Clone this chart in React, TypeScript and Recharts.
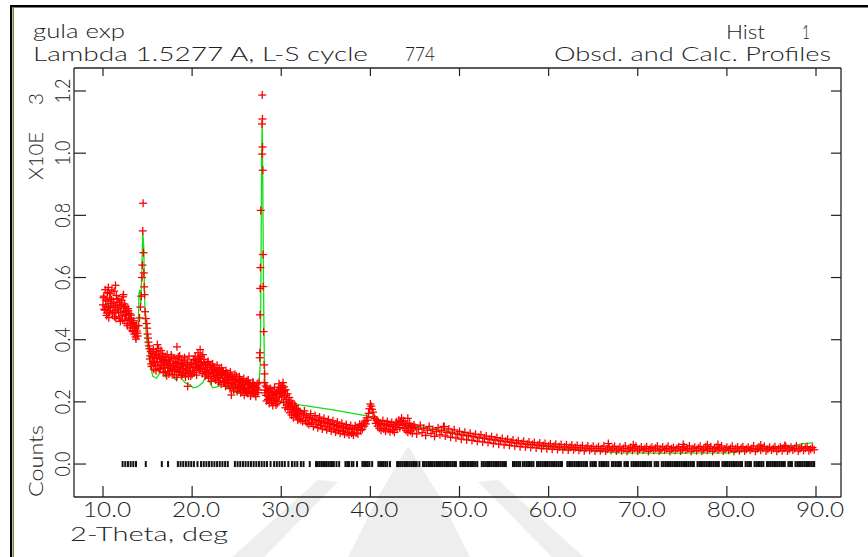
import { ComposedChart, Scatter, Line, XAxis, YAxis } from "recharts"

// tick labels
const X_TICKS = [10, 20, 30, 40, 50, 60, 70, 80, 90]
const Y_TICKS = [0, 0.2, 0.4, 0.6, 0.8, 1.0, 1.2]

// observed counts, scan segments (start angle, step, counts)
const OBS_A_START = 10.0
const obsA = [
  512, 540, 495, 528, 478, 552, 505, 489, 534, 517,
  560, 488, 521, 474, 509, 542, 496, 530, 470, 511,
  489, 527, 463, 502, 515, 478, 494, 452, 500, 470,
  484, 447, 468, 430, 455, 418, 441, 402, 428, 412,
]
const OBS_A2_START = 10.05
const obsA2 = [
  535, 498, 561, 507, 486, 524, 471, 548, 502, 529,
  483, 515, 556, 493, 468, 531, 504, 487, 520, 459,
  511, 476, 538, 490, 462, 507, 481, 445, 493, 466,
  438, 479, 452, 426, 461, 437, 409, 446, 421,
]

const peak1 = [
  [14.0, 445], [14.1, 470], [14.2, 505], [14.3, 540], [14.38, 600], [14.42, 640], [14.46, 750],
  [14.5, 839], [14.54, 680], [14.58, 615], [14.62, 570], [14.66, 545], [14.72, 490], [14.8, 468],
]

const OBS_B_START = 14.9
const obsB = [
  452, 418, 392, 371, 348, 322, 356, 331, 305, 342,
  318, 361, 329, 350, 307, 338, 365, 322, 347, 311,
  336, 298, 327, 352, 316, 290, 331, 308, 345, 301,
  322, 287, 318, 339, 304, 326, 295, 348, 312, 285,
  321, 306, 334, 292, 318, 300, 327, 283, 312, 296,
  325, 289, 313, 337, 301, 322, 286, 315, 341, 306,
  328, 346, 318, 352, 325, 298, 320, 289, 311, 330,
  294, 316, 281, 303, 322, 287, 309, 274, 298, 318,
  284, 302, 268, 291, 310, 276, 297, 262, 285, 301,
  269, 288, 254, 279, 296, 262, 281, 247, 270, 289,
  255, 274, 242, 266, 281, 249, 268, 236, 259, 275,
  244, 262, 230, 254, 270, 238, 257, 226, 249, 262,
  231, 252, 224, 246, 258, 238,
]
const OBS_B2_START = 14.95
const obsB2 = [
  437, 405, 380, 338, 362, 314, 345, 369, 326, 353,
  300, 339, 316, 372, 344, 305, 329, 356, 294, 333,
  318, 343, 284, 309, 336, 297, 324, 351, 288, 315,
  340, 302, 329, 279, 311, 344, 298, 323, 305, 335,
  289, 316, 342, 280, 306, 327, 293, 347, 310, 283,
  320, 301, 334, 295, 347, 312, 330, 358, 309, 337,
  303, 326, 291, 318, 337, 283, 305, 294, 327, 276,
  299, 319, 266, 293, 311, 281, 305, 270, 294, 285,
  263, 307, 279, 257, 289, 298, 265, 284, 250, 276,
  292, 259, 271, 243, 283, 260, 277, 238, 268, 251,
  283, 233, 261, 247, 272, 229, 254, 266, 240, 221,
  256, 235, 268, 227, 246, 259, 219, 243, 233, 262,
  228, 250, 217, 241, 230,
]

const peak2 = [
  [27.5, 262], [27.58, 342], [27.6, 358], [27.62, 480], [27.64, 565], [27.66, 632], [27.7, 816],
  [27.84, 1094], [27.87, 1187], [27.89, 1110], [27.9, 1020], [27.86, 997], [27.93, 945],
  [27.96, 674], [27.98, 571], [28.02, 426], [28.08, 319], [28.12, 290],
]

const OBS_C_START = 28.1
const obsC = [
  262, 238, 221, 247, 208, 232, 214, 241, 199, 226,
  205, 233, 212, 190, 224, 201, 236, 218, 245, 228,
  252, 236, 248, 221, 239, 207, 226, 193, 214, 185,
  203, 176, 195, 168, 187, 160, 179, 152, 172, 146,
  168, 141, 163, 137, 158, 171, 140, 155, 131, 150,
  127, 148, 162, 133, 145, 121, 143, 156, 128, 141,
  117, 137, 151, 124, 139, 113, 133, 147, 120, 135,
  110, 130, 143, 116, 131, 106, 126, 139, 112, 127,
  103, 122, 135, 108, 123, 99, 118, 131, 105, 119,
  96, 115, 127, 101, 116, 94, 112, 124, 99, 114,
  93, 111, 123, 100, 116, 97, 118, 128, 108, 124,
  112, 131, 122, 138, 129, 149, 141, 163, 178, 193,
  186, 176, 167, 152, 146, 131, 140, 122, 136, 115,
  131, 109, 127, 140, 113, 129, 106, 124, 137, 111,
  127, 104, 121, 134, 109, 125, 102, 119, 135, 112,
  128, 141, 117, 136, 148, 124, 139, 115, 131, 108,
  125, 102, 119, 131, 106, 121, 99, 115, 126,
]
const OBS_C2_START = 28.15
const obsC2 = [
  229, 251, 203, 237, 219, 195, 243, 212, 230, 188,
  221, 247, 206, 229, 195, 238, 258, 231, 244, 215,
  233, 198, 221, 181, 208, 190, 176, 199, 165, 186,
  158, 181, 149, 170, 188, 156, 176, 142, 163,
]

const OBS_D_START = 45.0
const obsD = [
  118, 97, 112, 125, 101, 115, 92, 109, 121, 98,
  110, 89, 104, 117, 94, 107, 121, 90, 102, 113,
  86, 99, 110, 84, 96, 105, 80, 93, 102, 78,
  91, 99, 76, 88, 96, 73, 85, 94, 71, 83,
  90, 69, 80, 88, 66, 78, 85, 64, 75, 82,
  62, 73, 80, 60, 70, 77, 58, 68, 75, 56,
  66, 73, 55, 64, 71, 53, 63, 69, 52, 61,
  68, 50, 60, 66, 49, 58, 65, 48, 57, 64,
  47, 56, 63, 46, 55, 62, 45, 54, 61, 46,
  53, 60, 44, 52, 59, 43, 51, 58, 44, 50,
  57, 42, 50, 56, 43, 49, 58, 42, 48, 55,
  44, 51, 57, 42, 48, 55, 43, 50, 58, 41,
  49, 54, 44, 51, 57, 42, 48, 55, 45, 50,
  56, 41, 49, 54, 44, 51, 58, 42, 47, 55,
  45, 50, 57, 41, 49, 53, 44, 51, 56, 42,
  48, 55, 45, 50, 58, 41, 49, 54, 43, 51,
  57, 42, 48, 55, 44, 50, 56, 41, 49, 53,
  45, 51, 58, 42, 48, 54, 44, 50, 57, 41,
  49, 55, 43, 51, 56, 42, 48, 54, 45, 50,
  58, 41, 49, 55, 44, 51, 57, 42, 48, 54,
  45, 50, 56, 41, 49, 55, 43, 51, 57, 42,
  48, 54, 45, 50, 58, 42, 49, 55, 44, 51,
  56, 43, 48, 53, 46,
]

const outliers = [
  [10.6, 568], [11.4, 575], [12.3, 545], [16.1, 384], [18.3, 377], [20.9, 368], [19.5, 250],
  [24.4, 222], [30.2, 262], [44.2, 147], [48.3, 120], [66.7, 66], [69.5, 62], [75.1, 63],
  [77.8, 62], [79.0, 63], [83.8, 61], [86.5, 60],
]

// calculated profile
const calc = [
  [10.0, 515], [10.5, 512], [11.0, 508], [11.5, 503], [12.0, 497], [12.5, 487], [13.0, 473],
  [13.3, 458], [13.6, 432], [13.8, 414], [13.95, 450], [14.05, 550], [14.15, 560], [14.25, 515],
  [14.35, 620], [14.47, 745], [14.57, 700], [14.66, 550], [14.75, 460], [14.9, 400], [15.1, 360],
  [15.3, 314], [15.6, 282], [16.0, 276], [16.3, 290], [16.5, 320], [16.7, 338], [16.85, 300],
  [17.0, 280], [17.2, 290], [17.5, 330], [17.7, 300], [18.0, 275], [18.3, 270], [18.6, 300],
  [18.8, 275], [19.2, 262], [19.8, 255], [20.1, 245], [20.6, 248], [21.2, 262], [21.5, 278],
  [21.7, 282], [21.9, 268], [22.3, 245], [22.8, 248], [23.5, 256], [24.0, 245], [24.6, 232],
  [25.2, 228], [25.7, 226], [26.3, 227], [26.8, 229], [27.2, 240], [27.5, 262], [27.65, 320],
  [27.72, 600], [27.8, 1000], [27.87, 1100], [27.93, 900], [28.0, 600], [28.1, 330], [28.2, 250],
  [28.4, 213], [31.0, 197], [32.1, 190], [35.8, 174], [39.6, 155], [41.5, 139], [43.3, 128],
  [47.0, 115], [52.6, 83], [55.0, 72], [58.2, 61], [62.0, 50], [64.0, 45], [66.0, 40],
  [68.0, 36], [74.0, 35], [80.0, 36], [82.0, 40], [83.5, 47], [85.5, 54], [87.5, 59],
  [88.5, 66], [89.7, 68],
]

// reflection positions, 2-theta
const reflections = [
  12.2, 12.5, 12.8, 13.1, 13.4, 13.7, 14.8, 16.6, 17.3, 18.4, 18.7, 19.0, 19.3, 19.6, 19.9,
  20.2, 20.6, 21.0, 21.3, 21.6, 21.9, 22.2, 22.5, 22.8, 23.1, 23.4, 23.7, 24.0, 24.8, 25.1,
  25.4, 25.7, 26.0, 26.3, 26.6, 26.9, 27.2, 27.5, 27.8, 28.1, 28.4, 28.8, 29.2, 29.5, 29.8,
  30.1, 30.4, 30.8, 31.2, 31.5, 31.8, 32.2, 32.5, 33.2, 33.9, 34.1, 34.3, 34.5, 34.7, 34.9,
  35.1, 35.3, 35.5, 35.7, 35.9, 36.2, 36.5, 37.2, 37.4, 37.6, 37.9, 38.1, 38.5, 39.1, 39.3,
  39.5, 39.7, 39.9, 40.2, 40.9, 41.1, 41.3, 41.5, 41.7, 41.9, 42.2, 43.0, 43.2, 43.4, 43.6,
  43.8, 44.0, 44.2, 44.4, 44.6, 44.8, 45.0, 45.2, 45.5, 45.9, 46.1, 46.3, 46.5, 46.6, 46.8,
  47.0, 47.2, 47.4, 47.5, 47.7, 47.9, 48.1, 48.3, 48.5, 48.6, 48.8, 49.0, 49.2, 49.4, 49.6,
  50.1, 50.3, 50.5, 50.7, 50.9, 51.0, 51.2, 51.4, 51.6, 51.8, 52.0, 52.5, 52.7, 52.9, 53.1,
  53.2, 53.4, 53.6, 53.8, 54.0, 54.2, 54.4, 54.6, 54.8, 55.0, 55.2, 56.0, 56.2, 56.4, 56.6,
  56.8, 57.1, 57.3, 57.5, 57.7, 57.9, 58.1, 58.3, 58.7, 58.9, 59.1, 59.3, 59.5, 59.7, 59.9,
  60.1, 60.3, 60.5, 60.7, 60.9, 61.1, 61.3, 61.5, 62.1, 62.3, 62.5, 62.7, 62.9, 63.1, 63.3,
  63.5, 63.7, 63.9, 64.1, 64.3, 64.7, 64.9, 65.1, 65.3, 65.7, 65.9, 66.1, 66.3, 66.5, 66.7,
  67.1, 67.3, 67.5, 67.7, 67.9, 68.1, 68.5, 68.7, 68.9, 69.3, 69.5, 69.7, 69.9, 70.1, 70.3,
  70.5, 70.7, 70.9, 71.1, 71.3, 71.5, 71.9, 72.1, 72.3, 72.7, 72.9, 73.1, 73.3, 73.5, 73.7,
  73.9, 74.1, 74.3, 74.5, 74.7, 74.9, 75.1, 75.3, 75.5, 75.7, 75.9, 76.1, 76.3, 76.7, 76.9,
  77.1, 77.3, 77.5, 77.7, 77.9, 78.1, 78.3, 78.5, 78.7, 78.9, 79.1, 79.5, 79.7, 79.9, 80.1,
  80.3, 80.5, 80.7, 80.9, 81.1, 81.3, 81.5, 81.7, 82.1, 82.3, 82.5, 82.7, 83.1, 83.3, 83.5,
  83.7, 83.9, 84.1, 84.5, 84.7, 84.9, 85.1, 85.3, 85.5, 85.7, 85.9, 86.1, 86.3, 86.5, 86.9,
  87.1, 87.3, 87.7, 87.9, 88.1, 88.3, 88.5, 88.7, 88.9, 89.1, 89.3, 89.5, 89.7, 89.8,
]

const seg = (start: number, step: number, vals: number[]) =>
  vals.map((v, i) => ({ x: +(start + i * step).toFixed(2), y: v / 1000 }))
const pairs = (p: number[][]) => p.map(([x, v]) => ({ x, y: v / 1000 }))

const obsData = [
  ...seg(OBS_A_START, 0.1, obsA),
  ...seg(OBS_A2_START, 0.1, obsA2),
  ...pairs(peak1),
  ...seg(OBS_B_START, 0.1, obsB),
  ...seg(OBS_B2_START, 0.1, obsB2),
  ...pairs(peak2),
  ...seg(OBS_C_START, 0.1, obsC),
  ...seg(OBS_C2_START, 0.1, obsC2),
  ...seg(OBS_D_START, 0.2, obsD),
  ...pairs(outliers),
]
const calcData = pairs(calc)
const refData = reflections.map((x) => ({ x, y: 0 }))

const FONT = "Lato, Roboto, 'DejaVu Sans', sans-serif"
const INK = "#222"
const X_DOMAIN = [6.746, 92.805]
const Y_DOMAIN = [-0.106, 1.274]

const Plus = (props: any) => {
  const { cx, cy } = props
  if (cx == null || cy == null) return null
  return (
    <g stroke="#ff0000" strokeWidth={1.3}>
      <line x1={cx - 4} x2={cx + 4} y1={cy} y2={cy} />
      <line x1={cx} x2={cx} y1={cy - 4} y2={cy + 4} />
    </g>
  )
}

const RefMark = (props: any) => {
  const { cx, cy } = props
  if (cx == null || cy == null) return null
  return <line x1={cx} x2={cx} y1={cy - 3} y2={cy + 3} stroke="#111" strokeWidth={2} />
}

const BottomTick = (props: any) => {
  const { x, y, payload } = props
  return (
    <g>
      <line x1={x} x2={x} y1={y} y2={y - 11} stroke={INK} strokeWidth={1.2} />
      <text x={x + 4} y={y + 20} textAnchor="middle" fontSize={21} fontWeight={300} fill={INK}
        fontFamily={FONT} textLength={48} lengthAdjust="spacingAndGlyphs">
        {payload.value.toFixed(1)}
      </text>
    </g>
  )
}

const TopTick = (props: any) => {
  const { x, y } = props
  return <line x1={x} x2={x} y1={y} y2={y + 8} stroke={INK} strokeWidth={1.2} />
}

const LeftTick = (props: any) => {
  const { x, y, payload } = props
  const lx = x - 4
  return (
    <g>
      <line x1={x} x2={x + 12} y1={y} y2={y} stroke={INK} strokeWidth={1.2} />
      <text x={lx} y={y} transform={`rotate(-90 ${lx} ${y})`} textAnchor="middle" fontSize={21}
        fontWeight={300} fill={INK} fontFamily={FONT} textLength={25} lengthAdjust="spacingAndGlyphs">
        {payload.value.toFixed(1)}
      </text>
    </g>
  )
}

const RightTick = (props: any) => {
  const { x, y } = props
  return <line x1={x} x2={x - 10} y1={y} y2={y} stroke={INK} strokeWidth={1.2} />
}

function Txt({ x, y, len, children, rotate }: any) {
  return (
    <text x={x} y={y} fontSize={20} fontWeight={300} fill={INK} fontFamily={FONT}
      textLength={len} lengthAdjust="spacingAndGlyphs"
      transform={rotate ? `rotate(-90 ${x} ${y})` : undefined}>
      {children}
    </text>
  )
}

export default function App() {
  return (
    <div style={{ position: "absolute", left: 0, top: 0, width: 868, height: 557, background: "#fff" }}>
      {/* faint watermark behind the plot */}
      <svg width={868} height={557} style={{ position: "absolute", left: 0, top: 0 }}>
        <g fill="#eeeeee">
          <polygon points="408,446 440,497 470,557 348,557 378,497" />
          <polygon points="232,557 264,557 338,482 318,480" />
          <polygon points="552,557 584,557 498,480 478,482" />
        </g>
      </svg>
      <div style={{ position: "absolute", left: 0, top: 0 }}>
        <ComposedChart width={868} height={557} margin={{ top: 48, right: 7, bottom: 30, left: 44 }}>
          <XAxis dataKey="x" type="number" domain={X_DOMAIN} allowDataOverflow ticks={X_TICKS}
            interval={0} height={30} tickSize={0} tickMargin={0} tickLine={false}
            axisLine={{ stroke: INK, strokeWidth: 1.3 }} tick={<BottomTick />} />
          <XAxis xAxisId="top" orientation="top" dataKey="x" type="number" domain={X_DOMAIN}
            allowDataOverflow ticks={X_TICKS} interval={0} height={20} tickSize={0} tickMargin={0}
            tickLine={false} axisLine={{ stroke: INK, strokeWidth: 1.3 }} tick={<TopTick />} />
          <YAxis dataKey="y" type="number" domain={Y_DOMAIN} allowDataOverflow ticks={Y_TICKS}
            interval={0} width={30} tickSize={0} tickMargin={0} tickLine={false}
            axisLine={{ stroke: INK, strokeWidth: 1.3 }} tick={<LeftTick />} />
          <YAxis yAxisId="right" orientation="right" dataKey="y" type="number" domain={Y_DOMAIN}
            allowDataOverflow ticks={Y_TICKS} interval={0} width={20} tickSize={0} tickMargin={0}
            tickLine={false} axisLine={{ stroke: INK, strokeWidth: 1.3 }} tick={<RightTick />} />
          <Scatter data={refData} dataKey="y" shape={<RefMark />} isAnimationActive={false} />
          <Scatter data={obsData} dataKey="y" shape={<Plus />} isAnimationActive={false} />
          <Line data={calcData} dataKey="y" type="linear" stroke="#11e011" strokeWidth={1.3}
            dot={false} activeDot={false} isAnimationActive={false} />
        </ComposedChart>
      </div>
      <svg width={868} height={557} style={{ position: "absolute", left: 0, top: 0, pointerEvents: "none" }}>
        <rect x={10} y={5} width={858} height={2.5} fill="#000" />
        <rect x={10} y={5} width={2} height={552} fill="#000" />
        <rect x={12.5} y={8} width={1.5} height={549} fill="#7a7a45" />
        <Txt x={33} y={38} len={92}>gula exp</Txt>
        <Txt x={33} y={61} len={335}>Lambda 1.5277 A, L-S cycle</Txt>
        <Txt x={405} y={61} len={30}>774</Txt>
        <Txt x={726} y={39} len={39}>Hist</Txt>
        <Txt x={802} y={39} len={8}>1</Txt>
        <Txt x={554} y={61} len={277}>Obsd. and Calc. Profiles</Txt>
        <Txt x={70} y={541} len={158}>2-Theta, deg</Txt>
        <Txt x={43} y={180} len={48} rotate>X10E</Txt>
        <Txt x={43} y={105} len={12} rotate>3</Txt>
        <Txt x={43} y={497} len={72} rotate>Counts</Txt>
      </svg>
    </div>
  )
}
